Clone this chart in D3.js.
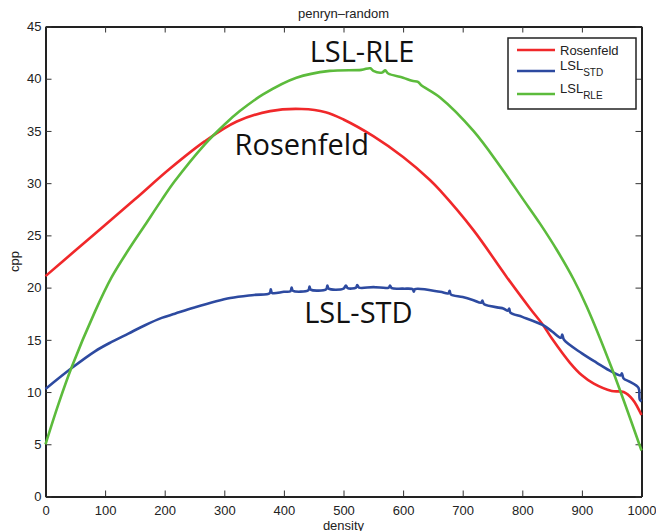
<!DOCTYPE html>
<html lang="en">

<head>
  <meta charset="UTF-8">
  <script src="https://d3js.org/d3.v7.min.js"></script>
  <style>
    body { margin: 0; background: #fff; }
  </style>
</head>

<body>
  <svg id="chart" width="656" height="531"></svg>

  <script>
    // values (density, cpp)
    const rosenfeld = [
      [0, 21.1], [50, 23.55], [100, 26.0], [150, 28.45], [209, 31.4], [267, 34.0], [321, 35.9],
      [377, 36.9], [430, 37.1], [470, 36.8], [500, 36.1], [550, 34.5], [600, 32.5], [645, 30.3],
      [662, 29.3], [718, 25.5], [774, 21.0], [813, 18.0], [835, 16.4], [850, 15.1], [880, 12.8],
      [900, 11.6], [920, 10.8], [950, 10.1], [970, 10.0], [985, 9.3], [1000, 7.8]
    ];
    const lslStd = [
      [0, 10.3], [44, 12.3], [83, 13.9], [111, 14.8], [139, 15.6], [167, 16.4], [195, 17.1],
      [217, 17.5], [250, 18.1], [310, 19.0], [350, 19.3], [376, 19.45], [378, 19.85], [380, 19.5],
      [400, 19.6], [411, 19.65], [413, 20.0], [415, 19.7], [441, 19.75], [443, 20.1], [445, 19.8],
      [471, 19.85], [473, 20.2], [475, 19.9], [500, 19.9], [504, 20.2], [507, 19.95], [521, 20.0],
      [523, 20.25], [526, 20.0], [550, 20.05], [576, 20.0], [578, 20.2], [581, 19.95], [600, 19.9],
      [616, 19.85], [618, 19.6], [620, 19.85], [662, 19.6], [676, 19.45], [678, 19.7], [680, 19.35],
      [700, 19.1], [718, 18.8], [731, 18.55], [733, 18.75], [736, 18.4], [768, 18.0], [776, 17.8],
      [778, 18.0], [780, 17.6], [800, 17.2], [835, 16.4], [850, 15.8], [865, 15.2], [867, 15.5],
      [870, 15.0], [900, 13.7], [925, 12.8], [950, 11.95], [965, 11.6], [967, 11.8], [970, 11.3],
      [980, 11.0], [995, 10.4], [997, 9.3], [1000, 9.1]
    ];
    const lslRle = [
      [0, 5.0], [22, 8.9], [44, 12.4], [83, 17.7], [111, 21.0], [139, 23.6],
      [167, 26.0], [195, 28.4], [217, 30.2], [267, 33.7], [300, 35.6], [326, 36.9], [365, 38.5],
      [421, 40.1], [477, 40.75], [530, 40.85], [545, 41.0], [550, 40.75], [565, 40.6], [570, 40.8],
      [575, 40.5], [600, 40.1], [615, 39.8], [625, 39.7], [630, 39.4], [662, 38.2], [718, 35.0],
      [763, 31.6], [802, 28.4], [830, 26.1], [858, 23.6], [886, 20.8], [908, 18.2], [950, 12.3],
      [1000, 4.4]
    ];
    const seriesNames = ["Rosenfeld", "LSL", "LSL"];
    const seriesSubs = ["", "STD", "RLE"];
    const seriesColors = ["#f0282a", "#2d4aa0", "#5cbb3c"];
    const densityTicks = d3.range(0, 1001, 100);
    const cppTicks = d3.range(0, 46, 5);
    const notes = [
      { text: "LSL-RLE", d: 531, v: 41.6 },
      { text: "Rosenfeld", d: 430, v: 32.7 },
      { text: "LSL-STD", d: 525, v: 16.6 }
    ];

    const svg = d3.select("#chart");
    const margins = { top: 26.5, right: 14.5, bottom: 34.5, left: 45.5 };
    const width = +svg.attr("width") - margins.left - margins.right;
    const height = +svg.attr("height") - margins.top - margins.bottom;
    const g = svg.append("g")
      .attr("transform", "translate(" + margins.left + "," + margins.top + ")");

    const x = d3.scaleLinear().domain([0, 1000]).range([0, width]);
    const y = d3.scaleLinear().domain([0, 45]).range([height, 0]);

    // ticks point inward on all four sides
    const tl = 6;
    g.append("g").attr("class", "axis")
      .attr("transform", "translate(0," + height + ")")
      .call(d3.axisBottom(x).tickValues(densityTicks).tickSizeInner(-tl).tickSizeOuter(0)
        .tickPadding(9).tickFormat(d3.format("d")));
    g.append("g").attr("class", "axis")
      .call(d3.axisTop(x).tickValues(densityTicks).tickSizeInner(-tl).tickSizeOuter(0).tickFormat(""));
    g.append("g").attr("class", "axis")
      .call(d3.axisLeft(y).tickValues(cppTicks).tickSizeInner(-tl).tickSizeOuter(0).tickPadding(4));
    g.append("g").attr("class", "axis")
      .attr("transform", "translate(" + width + ",0)")
      .call(d3.axisRight(y).tickValues(cppTicks).tickSizeInner(-tl).tickSizeOuter(0).tickFormat(""));
    g.selectAll(".axis .domain").attr("stroke", "#222").attr("stroke-width", 2);
    g.selectAll(".axis .tick line").attr("stroke", "#333").attr("stroke-width", 1);
    g.selectAll(".axis text").attr("font-size", 13)
      .attr("font-family", "Liberation Sans, Arial, sans-serif").attr("fill", "#222");

    // lines
    const line = d3.line()
      .x(d => x(d[0]))
      .y(d => y(d[1]))
      .curve(d3.curveCatmullRom.alpha(0.5));
    [rosenfeld, lslStd, lslRle].forEach((s, i) => {
      g.append("path")
        .datum(s)
        .attr("fill", "none")
        .attr("stroke", seriesColors[i])
        .attr("stroke-width", 2.6)
        .attr("stroke-linejoin", "round")
        .attr("d", line);
    });

    // labels
    const sans = "Liberation Sans, Arial, sans-serif";
    g.append("text")
      .attr("x", width / 2).attr("y", -9)
      .attr("text-anchor", "middle").attr("font-size", 13)
      .attr("font-family", sans).attr("fill", "#222")
      .text("penryn\u2013random");
    g.append("text")
      .attr("x", width / 2).attr("y", height + 33)
      .attr("text-anchor", "middle").attr("font-size", 13)
      .attr("font-family", sans).attr("fill", "#222")
      .text("density");
    g.append("text")
      .attr("transform", "translate(-27," + (height / 2) + ") rotate(-90)")
      .attr("text-anchor", "middle").attr("font-size", 13)
      .attr("font-family", sans).attr("fill", "#222")
      .text("cpp");

    g.selectAll("text.note").data(notes)
      .join("text")
      .attr("class", "note")
      .attr("x", d => x(d.d)).attr("y", d => y(d.v))
      .attr("text-anchor", "middle")
      .attr("font-family", "'Open Sans', sans-serif")
      .attr("font-size", 29)
      .attr("fill", "#111")
      .text(d => d.text);

    // legend
    const legend = g.append("g").attr("transform", "translate(" + (508 - margins.left) + "," + (38 - margins.top) + ")");
    legend.append("rect")
      .attr("width", 128).attr("height", 71)
      .attr("fill", "#fff").attr("stroke", "#222").attr("stroke-width", 1.5);
    const rowY = [12, 33, 56];
    seriesNames.forEach((n, i) => {
      legend.append("line")
        .attr("x1", 9).attr("x2", 47).attr("y1", rowY[i]).attr("y2", rowY[i])
        .attr("stroke", seriesColors[i]).attr("stroke-width", 2.6);
      const t = legend.append("text")
        .attr("x", 52).attr("y", rowY[i] + (i === 0 ? 5 : -1))
        .attr("font-size", 13).attr("font-family", sans).attr("fill", "#222")
        .text(n);
      if (seriesSubs[i]) {
        t.append("tspan").attr("dy", 6).attr("font-size", 10).text(seriesSubs[i]);
      }
    });
  </script>
</body>

</html>
